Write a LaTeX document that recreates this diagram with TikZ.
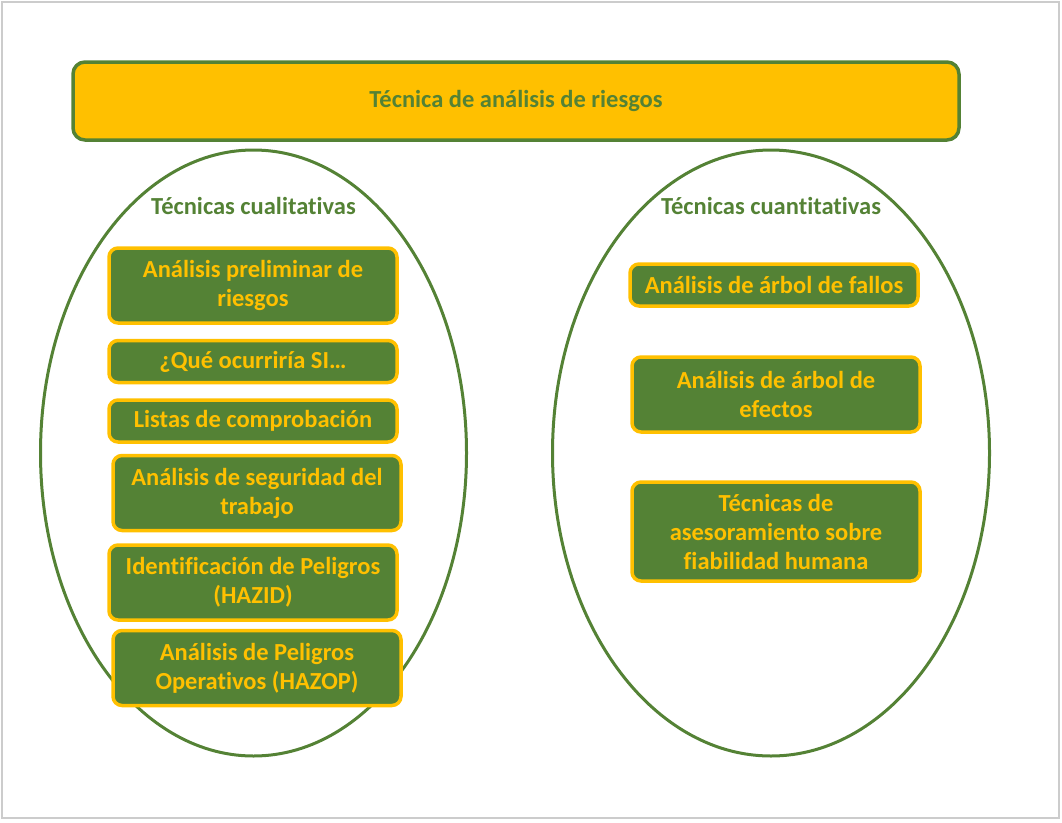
\documentclass[tikz,border=0pt]{standalone}
\usepackage{fontspec}
\setmainfont{Carlito}[Ligatures={NoCommon}]
\usepackage{tikz}
\usetikzlibrary{positioning,shapes.geometric}
\definecolor{riskGreen}{HTML}{548235}
\definecolor{riskYellow}{HTML}{FFC000}
\tikzset{
   riskTitle/.style = {
         rectangle,
         draw = riskGreen,
         fill = riskYellow,
         text = riskGreen,
         align = center,
         rounded corners = 12pt,
         line width = 3.5pt,
         font = \fontsize{24.5}{29}\selectfont\bfseries,
         minimum width = 886pt,
         minimum height = 78pt,
      },
   riskGroup/.style = {
         ellipse,
         draw = riskGreen,
         line width = 3pt,
         inner sep = 0pt,
      },
   riskHead/.style = {
         text = riskGreen,
         align = center,
         font = \fontsize{24.5}{29}\selectfont\bfseries,
      },
   riskItem/.style = {
         rectangle,
         draw = riskYellow,
         fill = riskGreen,
         text = riskYellow,
         align = center,
         rounded corners = 9pt,
         line width = 3.5pt,
         inner sep = 2pt,
         font = \fontsize{24.5}{29}\selectfont\bfseries,
         minimum width = 288pt,
         minimum height = 42pt,
      },
}

\begin{document}
\begin{tikzpicture}[x=1pt, y=-1pt]

% frame
\useasboundingbox (0,0) rectangle (1062,822);
\draw [black!20, line width=1.5pt] (2,2) rectangle (1059,818);

% Place nodes
\node [riskTitle] (title) at (516,101) {T\'ecnica de an\'alisis de riesgos};

\node [riskGroup, minimum width=426pt, minimum height=606pt]
	(qual-group) at (253.5,453) {};
\node [riskGroup, minimum width=437pt, minimum height=606pt]
	(quant-group) at (771,453) {};

\node [riskHead] (qual-head) at (253.5,206) {T\'ecnicas cualitativas};
\node [riskHead] (quant-head) at (771,206) {T\'ecnicas cuantitativas};

% qualitative
\node [riskItem, minimum height=75pt] (prelim) at (253,285.5)
	{An\'alisis preliminar de\\riesgos};
\node [riskItem] (what-if) at (253,361.5)
	{¿Qu\'e ocurrir\'ia SI\ldots};
\node [riskItem] (checklists) at (253,421)
	{Listas de comprobaci\'on};
\node [riskItem, minimum height=75pt] (job-safety) at (257,493)
	{An\'alisis de seguridad del\\trabajo};
\node [riskItem, minimum height=75pt] (hazid) at (253,582.5)
	{Identificaci\'on de Peligros\\(HAZID)};
\node [riskItem, minimum height=75pt] (hazop) at (257,668)
	{An\'alisis de Peligros\\Operativos (HAZOP)};

% quantitative
\node [riskItem] (fault-tree) at (774,285)
	{An\'alisis de \'arbol de fallos};
\node [riskItem, minimum height=75pt] (effect-tree) at (776,394.5)
	{An\'alisis de \'arbol de\\efectos};
\node [riskItem, minimum height=99pt] (human-rel) at (776,531.5)
	{T\'ecnicas de\\asesoramiento sobre\\fiabilidad humana};

\end{tikzpicture}
\end{document}
